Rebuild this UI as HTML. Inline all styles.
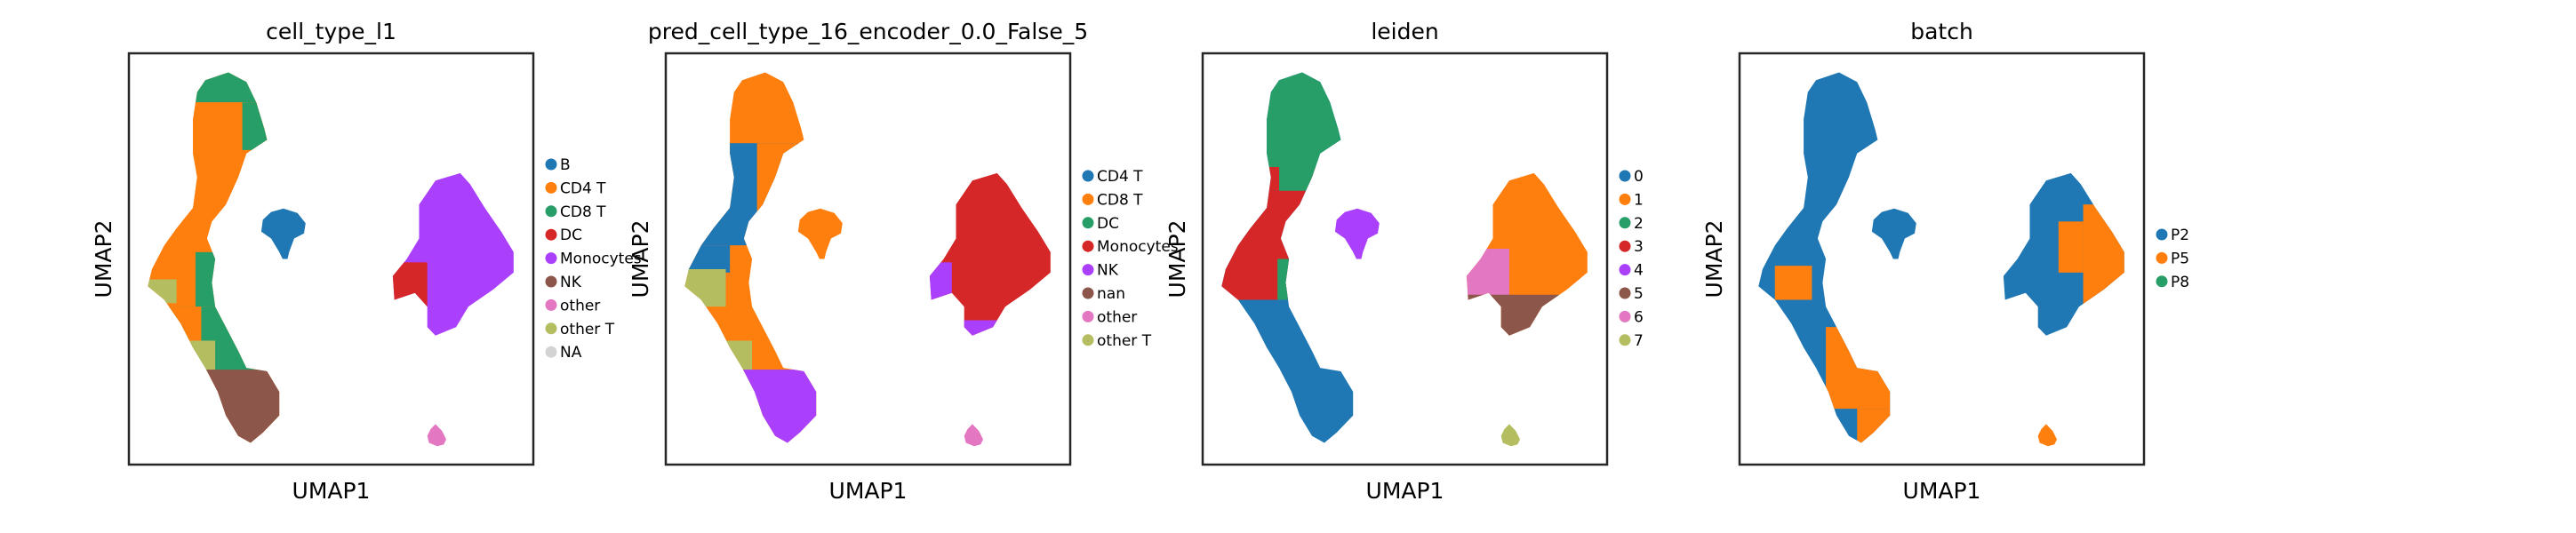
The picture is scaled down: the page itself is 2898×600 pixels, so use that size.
<!DOCTYPE html>
<html><head><meta charset="utf-8">
<style>
html,body{margin:0;padding:0;background:#fff;}
svg{display:block;font-family:"DejaVu Sans","Liberation Sans",sans-serif;}
</style></head>
<body>
<svg id="fig" width="2898" height="600" viewBox="0 0 2898 600" xmlns="http://www.w3.org/2000/svg"></svg>
<script>
// ---- data (UMAP-space outlines in arbitrary embedding units) ----
const panelTitles = ["cell_type_l1","pred_cell_type_16_encoder_0.0_False_5","leiden","batch"];
const panelX = [145,749,1353,1957];
const legendLabels = [
  ["B","CD4 T","CD8 T","DC","Monocytes","NK","other","other T","NA"],
  ["CD4 T","CD8 T","DC","Monocytes","NK","nan","other","other T"],
  ["0","1","2","3","4","5","6","7"],
  ["P2","P5","P8"]
];
const legendColors = [
  ["#1f77b4","#ff7f0e","#279e68","#d62728","#aa40fc","#8c564b","#e377c2","#b5bd61","#d3d3d3"],
  ["#1f77b4","#ff7f0e","#279e68","#d62728","#aa40fc","#8c564b","#e377c2","#b5bd61"],
  ["#1f77b4","#ff7f0e","#279e68","#d62728","#aa40fc","#8c564b","#e377c2","#b5bd61"],
  ["#1f77b4","#ff7f0e","#279e68"]
];
const legendTop = [185,198,198,264];
// strand (T / NK) outline
const strandX = [278,300,312,322,325,300,290,275,258,252,262,258,262,275,290,300,325,340,340,320,305,290,275,265,250,235,220,200,180,185,200,215,235,240,235,235,240,250];
const strandY = [212,240,300,380,410,450,520,600,650,700,760,830,900,960,1030,1080,1090,1150,1220,1270,1300,1280,1220,1150,1080,1020,950,880,840,790,720,670,610,520,450,350,270,235];
// monocyte blob
const monoX = [560,572,590,610,625,625,600,570,555,530,520,520,505,480,478,495,510,510,530];
const monoY = [508,540,610,680,740,800,850,900,960,985,960,900,860,880,810,760,700,600,530];
// B blob
const bX = [345,362,372,370,358,352,350,344,340,330,318,320,330];
const bY = [612,625,655,685,700,740,760,760,740,700,680,645,622];
// small bottom blob
const sX = [530,538,543,540,532,522,520,524];
const sY = [1245,1265,1290,1305,1310,1300,1280,1260];
// colour bands per panel: [y0,y1,x0,x1,color]
const strandBands = [
  [[0,1400,0,999,"#ff7f0e"],[200,300,0,999,"#279e68"],[300,650,0,999,"#ff7f0e"],[300,440,295,999,"#279e68"],[740,900,238,999,"#279e68"],[820,890,0,215,"#b5bd61"],[900,1090,0,999,"#279e68"],[900,1050,0,245,"#ff7f0e"],[1000,1090,0,262,"#b5bd61"],[1085,1310,0,999,"#8c564b"]],
  [[0,1400,0,999,"#ff7f0e"],[420,720,0,999,"#1f77b4"],[420,620,268,999,"#ff7f0e"],[720,800,0,235,"#1f77b4"],[790,900,0,230,"#b5bd61"],[1000,1090,0,262,"#b5bd61"],[1085,1310,0,999,"#aa40fc"]],
  [[0,1400,0,999,"#1f77b4"],[200,490,0,999,"#279e68"],[490,560,0,999,"#d62728"],[490,560,250,999,"#279e68"],[560,880,0,999,"#d62728"],[760,880,248,999,"#279e68"]],
  [[0,1400,0,999,"#1f77b4"],[780,880,200,245,"#ff7f0e"],[960,1200,262,999,"#ff7f0e"],[1200,1310,300,999,"#ff7f0e"]]
];
const monoBands = [
  [[500,1000,0,999,"#aa40fc"],[770,900,0,520,"#d62728"]],
  [[500,1000,0,999,"#d62728"],[770,900,0,505,"#aa40fc"],[940,1000,0,999,"#aa40fc"]],
  [[500,1000,0,999,"#ff7f0e"],[730,890,0,530,"#e377c2"],[865,1000,0,999,"#8c564b"]],
  [[500,1000,0,999,"#1f77b4"],[600,900,575,999,"#ff7f0e"],[650,800,545,575,"#ff7f0e"]]
];
const bColors = ["#1f77b4","#ff7f0e","#aa40fc","#1f77b4"];
const sColors = ["#e377c2","#e377c2","#b5bd61","#ff7f0e"];

// ---- axis functions ----
const W=455,H=463,TOP=60;
const xs = v => (v-157)/492*W;
const ys = v => (v-156)/1208*H;

const NS="http://www.w3.org/2000/svg";
const fig=document.getElementById('fig');
function mk(tag,attrs,parent){const e=document.createElementNS(NS,tag);for(const k in attrs)e.setAttribute(k,attrs[k]);parent.appendChild(e);return e;}
function pts(X,Y){return X.map((x,i)=>xs(x).toFixed(1)+","+ys(Y[i]).toFixed(1)).join(" ");}

panelTitles.forEach((t,p)=>{
  const g=mk('g',{transform:`translate(${panelX[p]},${TOP})`},fig);
  
  
  const defs=mk('defs',{},g);
  const c1=mk('clipPath',{id:'cs'+p},defs); mk('polygon',{points:pts(strandX,strandY)},c1);
  const c2=mk('clipPath',{id:'cm'+p},defs); mk('polygon',{points:pts(monoX,monoY)},c2);
  const gs=mk('g',{'clip-path':`url(#cs${p})`},g);
  
  
  strandBands[p].forEach(b=>{const r=mk('rect',{x:xs(Math.max(b[2],150)),y:ys(Math.max(b[0],150)),width:xs(Math.min(b[3],700))-xs(Math.max(b[2],150)),height:ys(Math.min(b[1],1370))-ys(Math.max(b[0],150)),fill:b[4]},gs);
    
    });
  const gm=mk('g',{'clip-path':`url(#cm${p})`},g);
  
  
  monoBands[p].forEach(b=>{const r=mk('rect',{x:xs(Math.max(b[2],150)),y:ys(b[0]),width:xs(Math.min(b[3],700))-xs(Math.max(b[2],150)),height:ys(b[1])-ys(b[0]),fill:b[4]},gm);
    
    });
  const bb=mk('polygon',{points:pts(bX,bY),fill:bColors[p]},g);
  
  
  const sb=mk('polygon',{points:pts(sX,sY),fill:sColors[p]},g);
  
  
  const fr=mk('rect',{x:0,y:0,width:W,height:H,fill:'none',stroke:'#262626','stroke-width':2.5},g);
  
  
  const ti=mk('text',{x:W/2,y:-16,'text-anchor':'middle','font-size':25,fill:'#000'},g); ti.textContent=t;
  
  
  const xl=mk('text',{x:W/2,y:H+38,'text-anchor':'middle','font-size':25,fill:'#000'},g); xl.textContent='UMAP1';
  
  
  const yl=mk('text',{x:0,y:0,'text-anchor':'middle','font-size':25,fill:'#000',transform:`translate(-20,${H/2}) rotate(-90)`},g); yl.textContent='UMAP2';
  
  
  const lg=mk('g',{},g);
  
  
  legendLabels[p].forEach((l,i)=>{
    const y=legendTop[p]-TOP+i*26.4;
    const d=mk('circle',{cx:W+20,cy:y,r:6.5,fill:legendColors[p][i]},lg);
    
    
    const tx=mk('text',{x:W+30,y:y+6,'font-size':17,fill:'#000'},lg); tx.textContent=l;
    
    
  });
});
</script>
</body></html>
